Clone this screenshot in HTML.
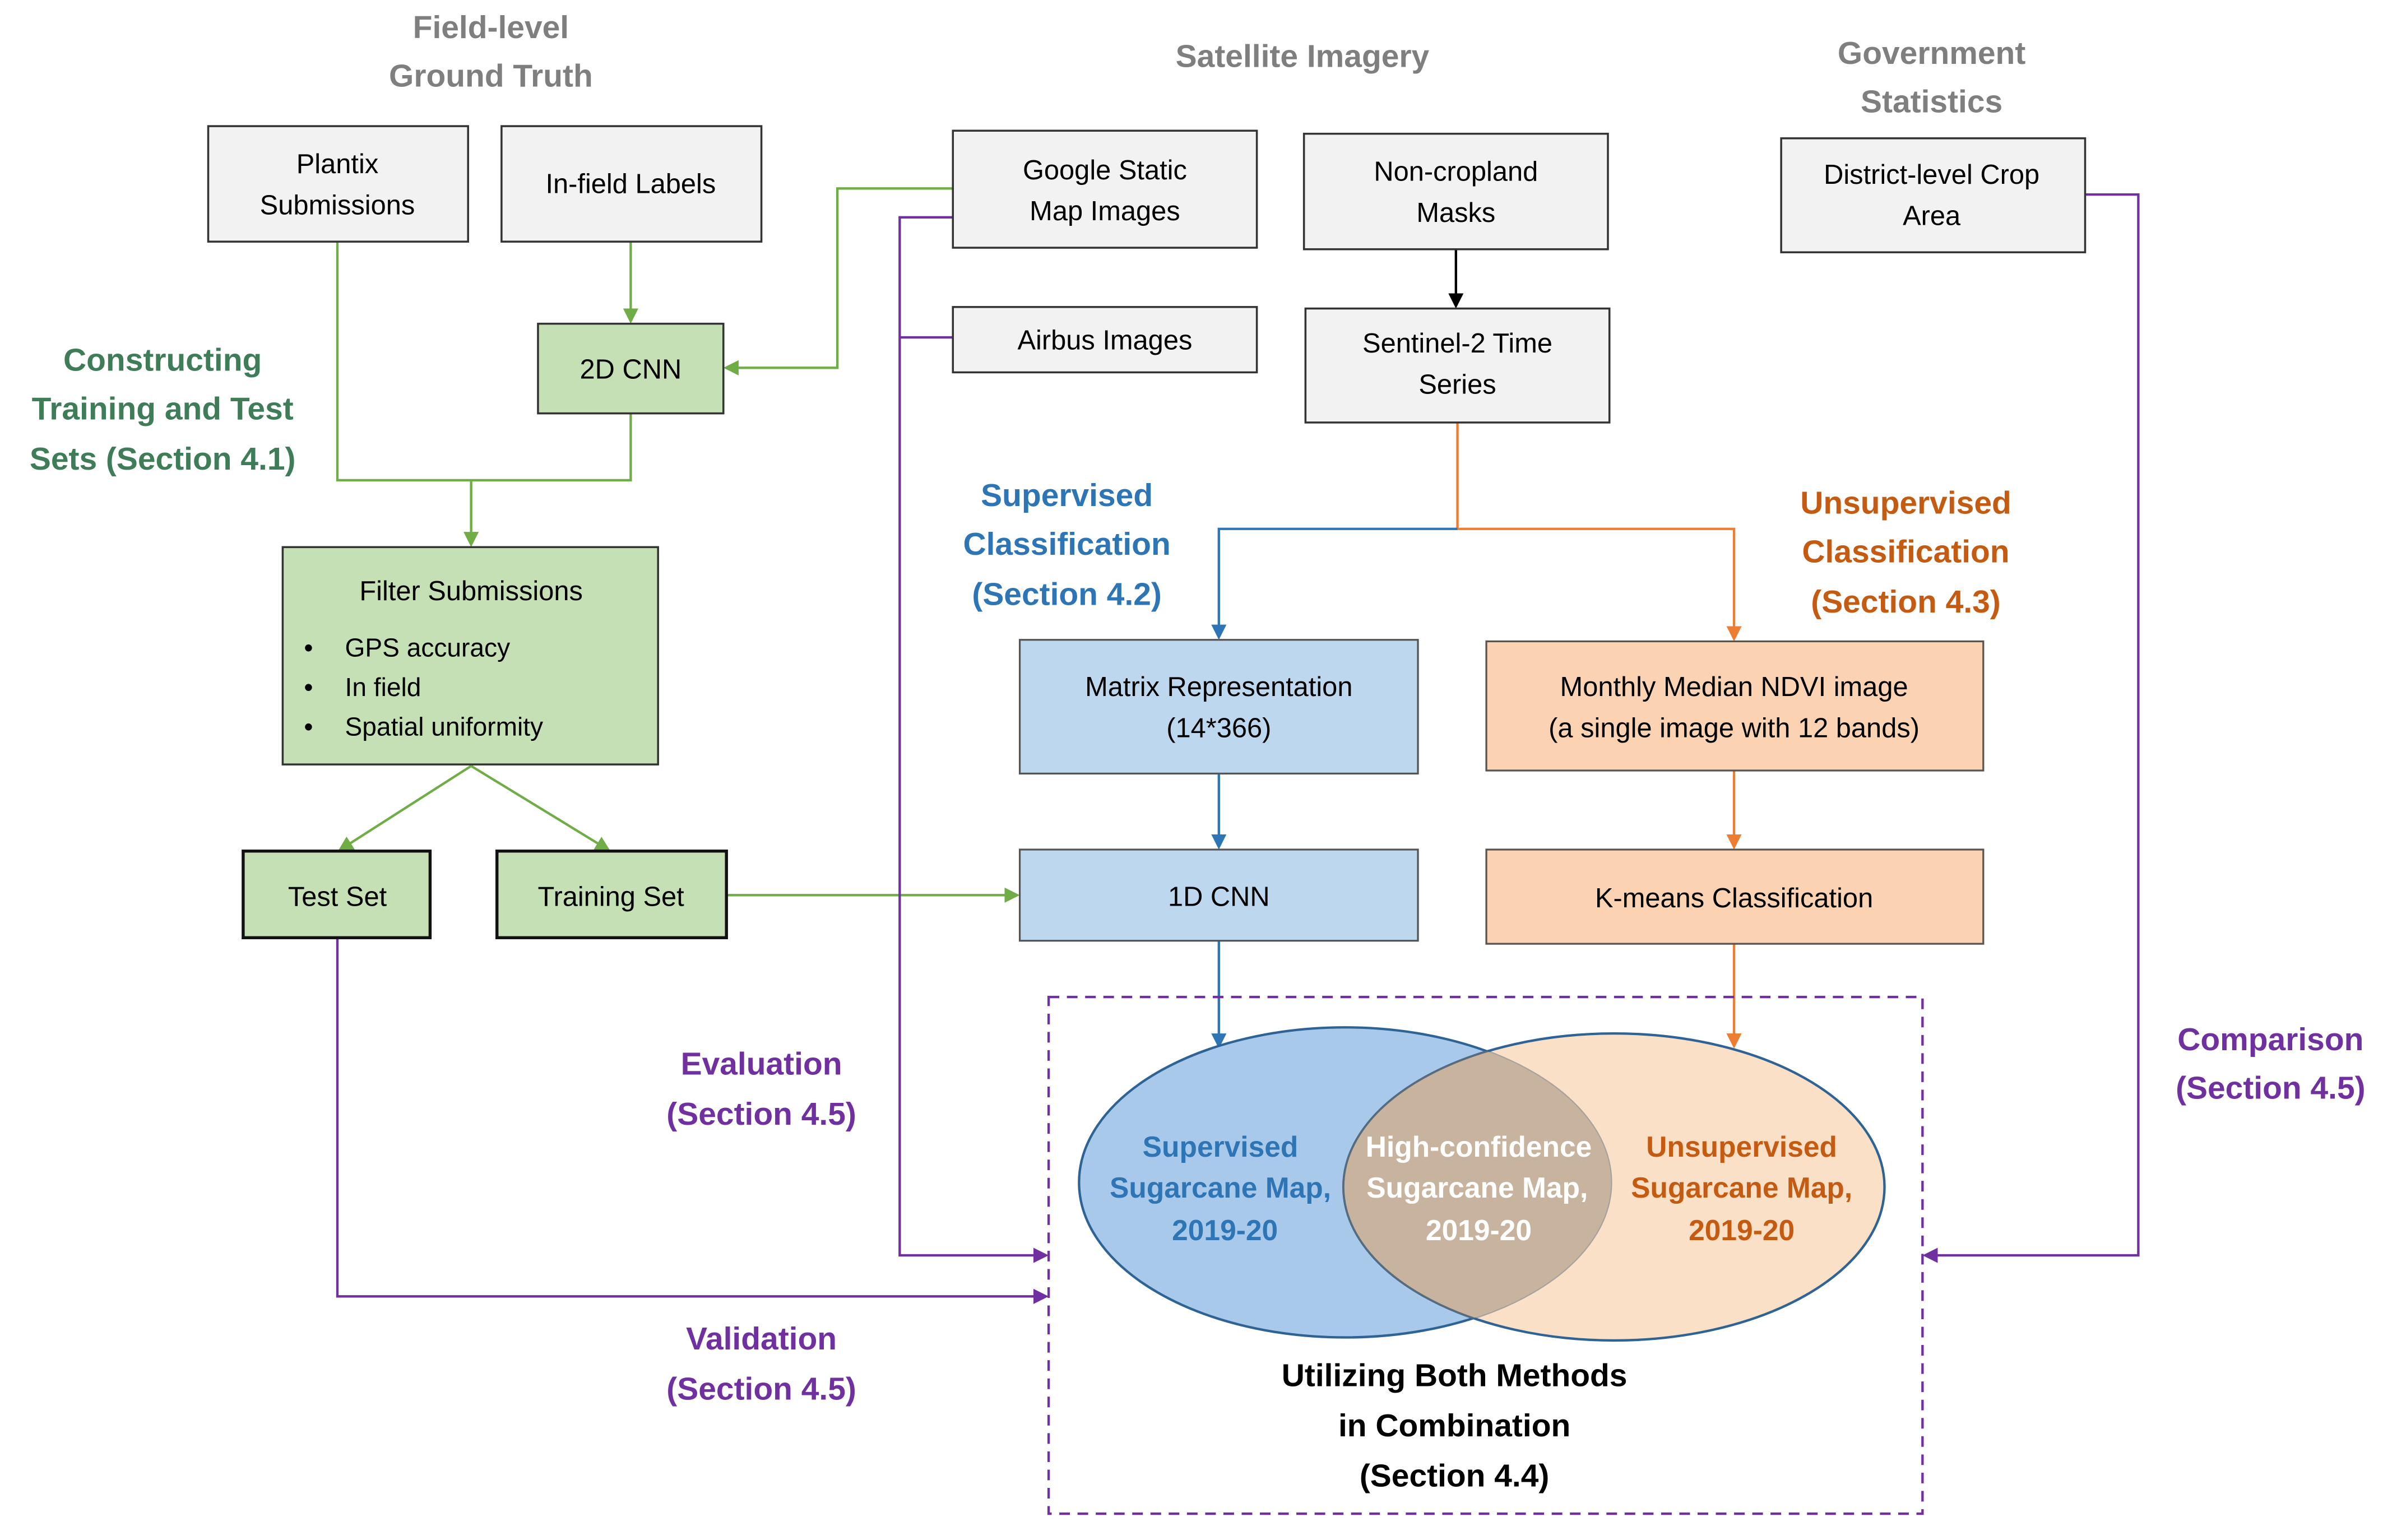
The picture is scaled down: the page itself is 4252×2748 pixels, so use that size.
<!DOCTYPE html>
<html><head><meta charset="utf-8"><style>
html,body{margin:0;padding:0;background:#fff;}
svg{display:block;}
text{font-family:"Liberation Sans",sans-serif;}
</style></head><body>
<svg width="4252" height="2748" viewBox="0 0 1568 1013.3" preserveAspectRatio="none" xmlns="http://www.w3.org/2000/svg">
<defs>
<marker id="ag" markerWidth="10" markerHeight="10" refX="8" refY="5" orient="auto" markerUnits="userSpaceOnUse"><path d="M0,0 L10,5 L0,10 z" fill="#70ad47"/></marker>
<marker id="ab" markerWidth="10" markerHeight="10" refX="8" refY="5" orient="auto" markerUnits="userSpaceOnUse"><path d="M0,0 L10,5 L0,10 z" fill="#2e75b6"/></marker>
<marker id="ao" markerWidth="10" markerHeight="10" refX="8" refY="5" orient="auto" markerUnits="userSpaceOnUse"><path d="M0,0 L10,5 L0,10 z" fill="#ed7d31"/></marker>
<marker id="ap" markerWidth="10" markerHeight="10" refX="8" refY="5" orient="auto" markerUnits="userSpaceOnUse"><path d="M0,0 L10,5 L0,10 z" fill="#7030a0"/></marker>
<marker id="ak" markerWidth="10" markerHeight="10" refX="8" refY="5" orient="auto" markerUnits="userSpaceOnUse"><path d="M0,0 L10,5 L0,10 z" fill="#000"/></marker>
</defs>

<!-- headings -->
<g font-weight="bold" font-size="21" fill="#7f7f7f" text-anchor="middle">
<text x="323" y="25">Field-level</text><text x="323" y="57">Ground Truth</text>
<text x="857" y="44">Satellite Imagery</text>
<text x="1271" y="42">Government</text><text x="1271" y="74">Statistics</text>
</g>
<g font-weight="bold" font-size="21" fill="#3e7d58" text-anchor="middle">
<text x="107" y="244">Constructing</text><text x="107" y="276">Training and Test</text><text x="107" y="309">Sets (Section 4.1)</text>
</g>
<g font-weight="bold" font-size="21" fill="#2e75b6" text-anchor="middle">
<text x="702" y="333">Supervised</text><text x="702" y="365">Classification</text><text x="702" y="398">(Section 4.2)</text>
</g>
<g font-weight="bold" font-size="21" fill="#c55a11" text-anchor="middle">
<text x="1254" y="338">Unsupervised</text><text x="1254" y="370">Classification</text><text x="1254" y="403">(Section 4.3)</text>
</g>
<g font-weight="bold" font-size="21" fill="#7030a0" text-anchor="middle">
<text x="501" y="707">Evaluation</text><text x="501" y="740">(Section 4.5)</text>
<text x="501" y="888">Validation</text><text x="501" y="921">(Section 4.5)</text>
<text x="1494" y="691">Comparison</text><text x="1494" y="723">(Section 4.5)</text>
</g>

<!-- connectors -->
<g fill="none" stroke-width="1.6">
<path d="M222,159 V316 H415 V272" stroke="#70ad47"/>
<path d="M310,316 V358" stroke="#70ad47" marker-end="url(#ag)"/>
<path d="M415,159 V211" stroke="#70ad47" marker-end="url(#ag)"/>
<path d="M627,124 H551 V242 H478" stroke="#70ad47" marker-end="url(#ag)"/>
<path d="M310,504 L224,559" stroke="#70ad47" marker-end="url(#ag)"/>
<path d="M310,504 L400,559" stroke="#70ad47" marker-end="url(#ag)"/>
<path d="M478,589 H669" stroke="#70ad47" marker-end="url(#ag)"/>
<path d="M958,164 V201" stroke="#000" marker-end="url(#ak)"/>
<path d="M959,278 V348 H1141 V420" stroke="#ed7d31" marker-end="url(#ao)"/>
<path d="M959,348 H802 V419" stroke="#2e75b6" marker-end="url(#ab)"/>
<path d="M802,509 V557" stroke="#2e75b6" marker-end="url(#ab)"/>
<path d="M802,619 V688" stroke="#2e75b6" marker-end="url(#ab)"/>
<path d="M1141,507 V557" stroke="#ed7d31" marker-end="url(#ao)"/>
<path d="M1141,621 V688" stroke="#ed7d31" marker-end="url(#ao)"/>
<path d="M627,143 H592 V826 H688" stroke="#7030a0" marker-end="url(#ap)"/>
<path d="M627,222 H592" stroke="#7030a0"/>
<path d="M222,617 V853 H688" stroke="#7030a0" marker-end="url(#ap)"/>
<path d="M1372,128 H1407 V826 H1267" stroke="#7030a0" marker-end="url(#ap)"/>
</g>

<!-- dashed box -->
<rect x="690" y="656" width="575" height="340" fill="none" stroke="#7030a0" stroke-width="1.6" stroke-dasharray="7,5"/>

<!-- venn -->
<ellipse cx="885" cy="778" rx="175" ry="102" fill="#a9c9ea" stroke="#2e6396" stroke-width="1.6"/>
<ellipse cx="1062" cy="781" rx="178" ry="101" fill="#f8cba3" fill-opacity="0.6" stroke="#2e6396" stroke-width="1.6"/>
<clipPath id="cb"><ellipse cx="885" cy="778" rx="175" ry="102"/></clipPath>
<ellipse cx="1062" cy="781" rx="178" ry="101" fill="#c8b49e" clip-path="url(#cb)" stroke="#5b6b78" stroke-width="1.2"/>
<g font-weight="bold" font-size="19" text-anchor="middle">
<g fill="#2e75b6"><text x="803" y="761">Supervised</text><text x="803" y="788">Sugarcane Map,</text><text x="806" y="816">2019-20</text></g>
<g fill="#ffffff"><text x="973" y="761">High-confidence</text><text x="972" y="788">Sugarcane Map,</text><text x="973" y="816">2019-20</text></g>
<g fill="#c55a11"><text x="1146" y="761">Unsupervised</text><text x="1146" y="788">Sugarcane Map,</text><text x="1146" y="816">2019-20</text></g>
</g>
<g font-weight="bold" font-size="21" fill="#000" text-anchor="middle">
<text x="957" y="912">Utilizing Both Methods</text><text x="957" y="945">in Combination</text><text x="957" y="978">(Section 4.4)</text>
</g>

<!-- boxes -->
<g stroke="#333" stroke-width="1.3" fill="#f2f2f2">
<rect x="137" y="83" width="171" height="76"/>
<rect x="330" y="83" width="171" height="76"/>
<rect x="627" y="86" width="200" height="77"/>
<rect x="858" y="88" width="200" height="76"/>
<rect x="1172" y="91" width="200" height="75"/>
<rect x="627" y="202" width="200" height="43"/>
<rect x="859" y="203" width="200" height="75"/>
</g>
<g stroke="#333" stroke-width="1.3" fill="#c5e0b4">
<rect x="354" y="213" width="122" height="59"/>
<rect x="186" y="360" width="247" height="143"/>
</g>
<g stroke="#111" stroke-width="2" fill="#c5e0b4">
<rect x="160" y="560" width="123" height="57"/>
<rect x="327" y="560" width="151" height="57"/>
</g>
<g stroke="#555" stroke-width="1.2" fill="#bdd7ee">
<rect x="671" y="421" width="262" height="88"/>
<rect x="671" y="559" width="262" height="60"/>
</g>
<g stroke="#555" stroke-width="1.2" fill="#fbd3b2">
<rect x="978" y="422" width="327" height="85"/>
<rect x="978" y="559" width="327" height="62"/>
</g>

<g font-size="18" fill="#000" text-anchor="middle">
<text x="222" y="114">Plantix</text><text x="222" y="141">Submissions</text>
<text x="415" y="127">In-field Labels</text>
<text x="727" y="118">Google Static</text><text x="727" y="145">Map Images</text>
<text x="958" y="119">Non-cropland</text><text x="958" y="146">Masks</text>
<text x="1271" y="121">District-level Crop</text><text x="1271" y="148">Area</text>
<text x="727" y="230">Airbus Images</text>
<text x="959" y="232">Sentinel-2 Time</text><text x="959" y="259">Series</text>
<text x="415" y="249">2D CNN</text>
<text x="310" y="395">Filter Submissions</text>
<text x="222" y="596">Test Set</text>
<text x="402" y="596">Training Set</text>
<text x="802" y="458">Matrix Representation</text><text x="802" y="485">(14*366)</text>
<text x="802" y="596">1D CNN</text>
<text x="1141" y="458">Monthly Median NDVI image</text><text x="1141" y="485">(a single image with 12 bands)</text>
<text x="1141" y="597">K-means Classification</text>
</g>
<g font-size="17" fill="#000">
<text x="200" y="432">•</text><text x="227" y="432">GPS accuracy</text>
<text x="200" y="458">•</text><text x="227" y="458">In field</text>
<text x="200" y="484">•</text><text x="227" y="484">Spatial uniformity</text>
</g>
</svg>
</body></html>
